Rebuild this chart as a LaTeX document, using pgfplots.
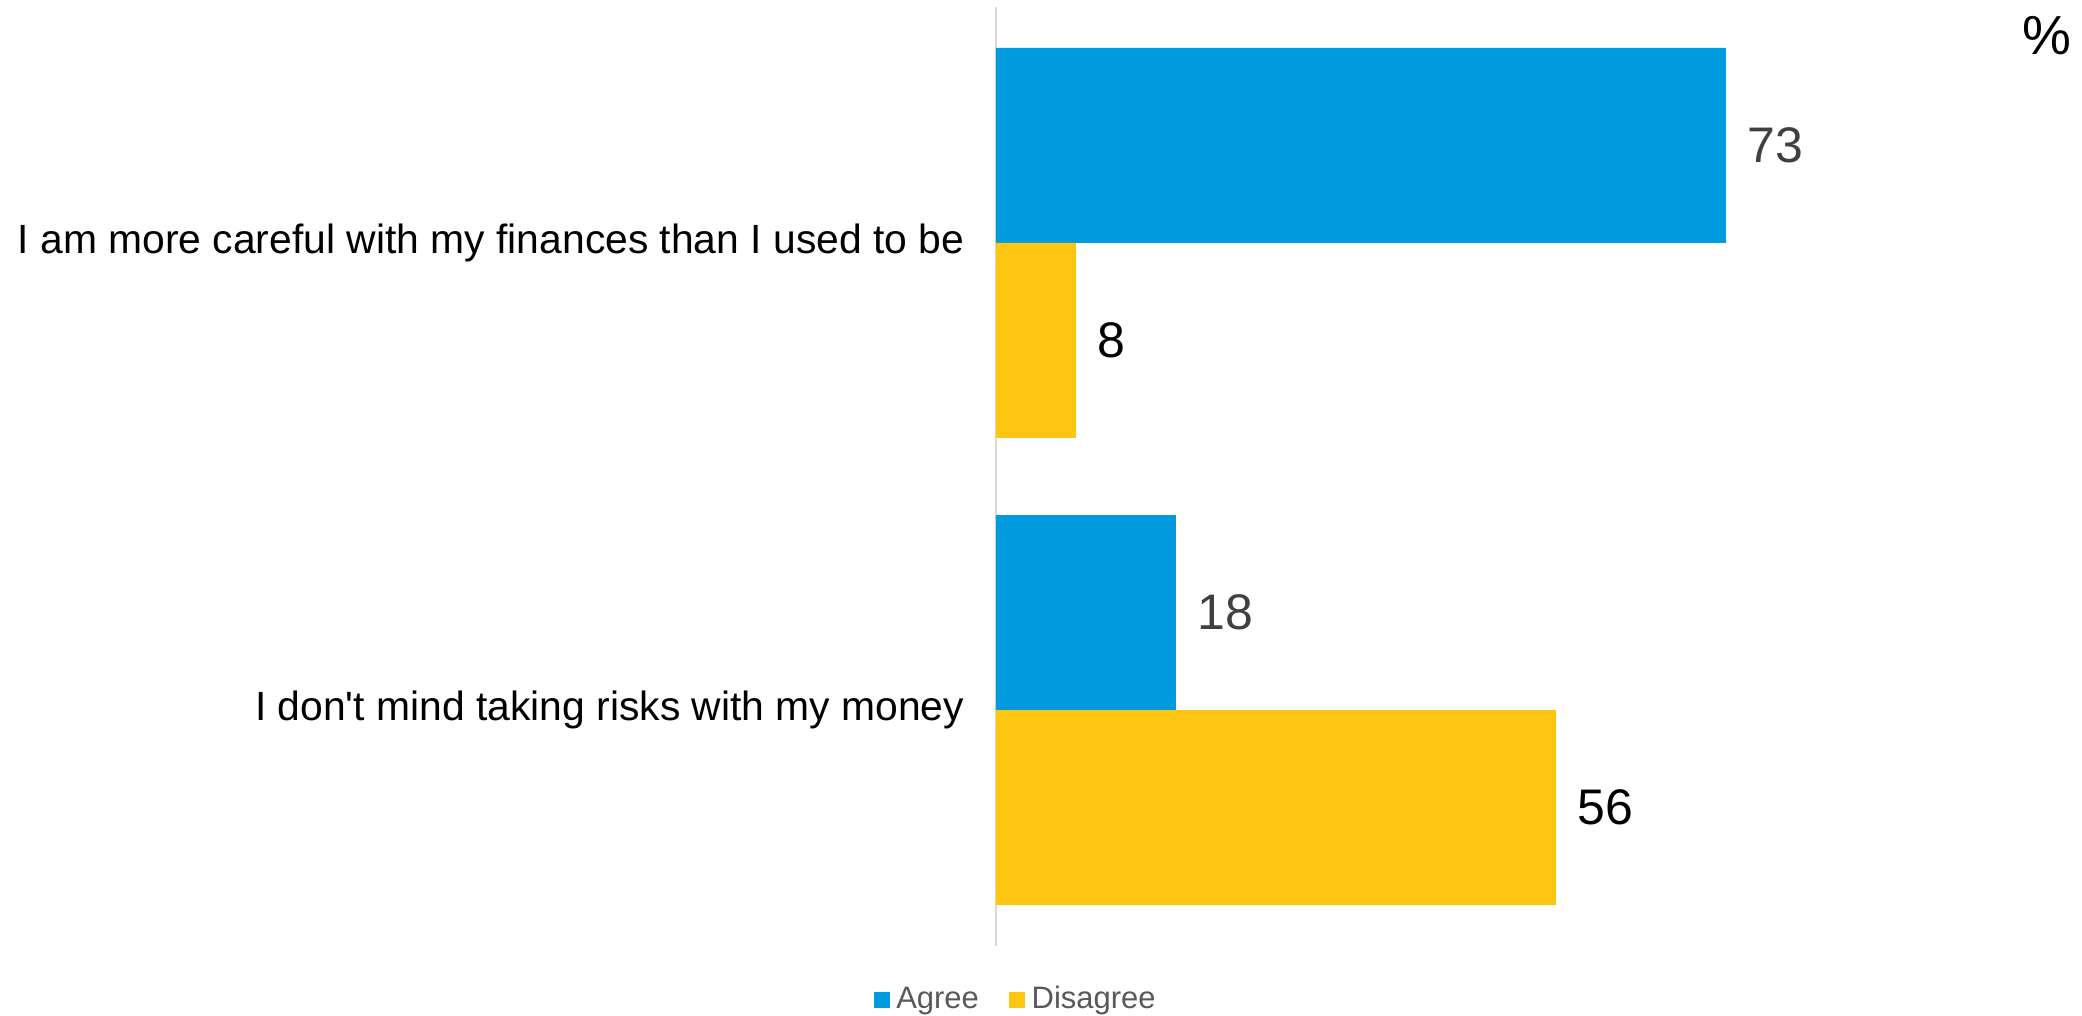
\documentclass[border=0pt]{standalone}
\usepackage{pgfplots}
\pgfplotsset{compat=1.18}
\usepackage{fontspec}
\setmainfont{Liberation Sans}[Ligatures=TeXOff]
\definecolor{agree}{RGB}{0,155,222}
\definecolor{disagree}{RGB}{254,198,16}
\definecolor{axisgrey}{RGB}{217,217,217}
\definecolor{numgrey}{RGB}{64,64,64}
\definecolor{leggrey}{RGB}{89,89,89}
\begin{document}
\begin{tikzpicture}
\useasboundingbox (-298.8pt,-21pt) rectangle (325.8pt,283.8pt);
\begin{axis}[
  scale only axis,
  width=300pt, height=281.7pt,
  xbar,
  xmin=0, xmax=100,
  ymin=-0.505, ymax=1.505,
  bar width=58.5pt,
  axis x line=none,
  axis y line*=left,
  y axis line style={axisgrey, line width=0.7pt},
  ytick={0,1},
  yticklabels={I don't mind taking risks with my money,
               I am more careful with my finances than I used to be},
  major tick length=0pt,
  yticklabel style={font=\fontsize{12.25}{15}\selectfont, text=black, xshift=-6pt},
  /pgf/number format/assume math mode=true,
  legend style={at={(axis description cs:0.022,-0.0575)}, anchor=center,
    draw=none, fill=none, legend columns=2,
    font=\fontsize{9.3}{11}\selectfont, text=leggrey,
    /tikz/every even column/.append style={column sep=7pt}},
  legend cell align=left,
  legend image code/.code={\fill[#1] (0pt,-2.4pt) rectangle (4.8pt,2.4pt);},
]
\addplot[fill=agree, draw=none, bar shift=29.25pt,
  nodes near coords, nodes near coords style={anchor=west, xshift=3pt,
    font=\fontsize{15}{18}\selectfont, text=numgrey}]
  coordinates {(18,0) (73,1)};
\addlegendentry{Agree}
\addplot[fill=disagree, draw=none, bar shift=-29.25pt,
  nodes near coords, nodes near coords style={anchor=west, xshift=3pt,
    font=\fontsize{15}{18}\selectfont, text=black}]
  coordinates {(56,0) (8,1)};
\addlegendentry{Disagree}
\end{axis}
\node[font=\fontsize{16.5}{19}\selectfont] at (315.3pt,273pt) {\%};
\end{tikzpicture}
\end{document}
